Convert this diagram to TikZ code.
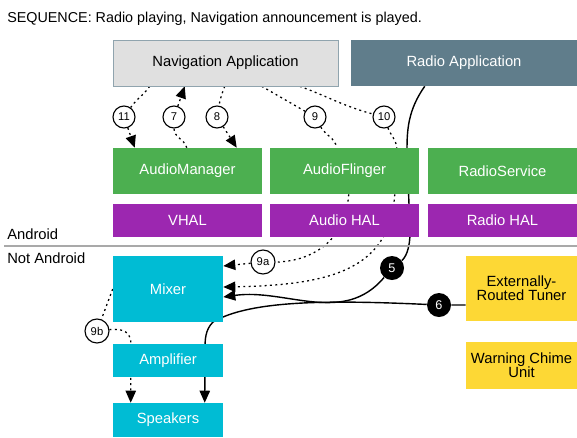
\documentclass[tikz,border=0pt]{standalone}
\usepackage{fontspec}
\setmainfont{Liberation Sans}
\usepackage{tikz}
\usetikzlibrary{arrows.meta, backgrounds}

\definecolor{navgray}{HTML}{E0E0E0}
\definecolor{navline}{HTML}{90A4AE}
\definecolor{radioblue}{HTML}{607D8B}
\definecolor{fwgreen}{HTML}{4CAF50}
\definecolor{halpurple}{HTML}{9C27B0}
\definecolor{hwcyan}{HTML}{00BCD4}
\definecolor{extyellow}{HTML}{FDD835}
\definecolor{sepgray}{HTML}{A9A9A9}

\tikzset{
  box/.style={rectangle, inner sep=0pt, align=center, font=\fontsize{10.5}{10.2}\selectfont},
  appbox/.style={box, minimum width=5.625cm, minimum height=1.15cm},
  fwbox/.style={box, fill=fwgreen, text=white, minimum width=3.725cm, minimum height=1.15cm},
  halbox/.style={box, fill=halpurple, text=white, minimum width=3.725cm, minimum height=0.825cm},
  hwbox/.style={box, fill=hwcyan, text=white, minimum width=2.75cm},
  extbox/.style={box, fill=extyellow, minimum width=2.775cm},
  zonelabel/.style={anchor=base west, inner sep=0pt, font=\fontsize{10.5}{12}\selectfont},
  stepnum/.style={circle, draw, thick, fill=white, inner sep=0pt, minimum size=0.55cm, font=\fontsize{8}{8}\selectfont},
  stepblack/.style={circle, fill=black, text=white, inner sep=0pt, minimum size=0.6cm, font=\fontsize{9}{9}\selectfont},
  dotline/.style={line width=0.9pt, dash pattern=on 1.4pt off 2.4pt},
  solidline/.style={line width=1pt},
  tip/.style={-{Triangle[length=0.3cm, width=0.26cm]}}
}

\begin{document}
\begin{tikzpicture}[x=0.025cm, y=-0.025cm]
\useasboundingbox (0,0) rectangle (577,437);

% Title and zones
\node[zonelabel, font=\fontsize{10.2}{12}\selectfont] (title) at (7,22) {SEQUENCE: Radio playing, Navigation announcement is played.};
\node[zonelabel] (android) at (7,239) {Android};
\node[zonelabel] (notandroid) at (7,263) {Not Android};
\coordinate (sepl) at (4,246);
\coordinate (sepr) at (577,246);
\draw[sepgray, line width=1.5pt] (sepl) -- (sepr);

% Applications
\node[appbox, fill=navgray, draw=navline] (nav) at (225.5,63) {Navigation Application};
\node[appbox, fill=radioblue, text=white, minimum width=5.65cm] (radioapp) at (464,63) {Radio Application};

% Framework
\node[fwbox] (amgr) at (187.5,171) {AudioManager};
\node[fwbox] (flinger) at (344.5,171) {AudioFlinger};
\node[fwbox] (radiosvc) at (502.5,171) {RadioService};

% HALs
\node[halbox] (vhal) at (187.5,220.5) {VHAL};
\node[halbox] (audiohal) at (344.5,220.5) {Audio HAL};
\node[halbox] (radiohal) at (502.5,220.5) {Radio HAL};

% Hardware
\node[hwbox, minimum height=1.65cm] (mixer) at (168,289) {Mixer};
\node[hwbox, minimum height=0.825cm] (amp) at (168,360.5) {Amplifier};
\node[hwbox, minimum height=0.85cm] (spk) at (168,420) {Speakers};
\node[extbox, minimum height=1.625cm] (tuner) at (521.5,288.5) {Externally-\\Routed Tuner};
\node[extbox, minimum height=1.175cm] (chime) at (521.5,365.5) {Warning Chime\\Unit};

% Step markers
\node[stepnum] (s11) at (124,117) {11};
\node[stepnum] (s7) at (174,117) {7};
\node[stepnum] (s8) at (217,117) {8};
\node[stepnum] (s9) at (315,117) {9};
\node[stepnum] (s10) at (384,117) {10};
\node[stepnum, minimum size=0.6cm] (s9a) at (263,262) {9a};
\node[stepnum, minimum size=0.6cm] (s9b) at (97,331) {9b};
\node[stepblack] (s5) at (392,268) {5};
\node[stepblack] (s6) at (439,305) {6};

% Flows
\begin{pgfonlayer}{background}
\draw[dotline, tip] ([xshift=0.925cm]nav.south west) to[out=-125, in=55] (s11) -- ([xshift=0.55cm]amgr.north west);
\draw[dotline, tip] ([xshift=1.85cm]amgr.north west) to[out=105, in=-90] (s7) -- ([xshift=1.8cm]nav.south west);
\draw[dotline, tip] ([xshift=2.8cm]nav.south west) to[out=-110, in=80] (s8) -- ([xshift=3.1cm]amgr.north west);
\draw[dotline] ([xshift=3.725cm]nav.south west) to[out=-30, in=150] (s9) to[out=-60, in=100] ([xshift=1.675cm]flinger.north west);
\draw[dotline] ([xshift=4.675cm]nav.south west) to[out=-20, in=165] (s10) to[out=-70, in=95] ([xshift=3.175cm]flinger.north west);

\draw[solidline] ([xshift=1.85cm]radioapp.south west) .. controls (408,110) and (407,130) .. (407,150) -- (410,232) .. controls (410,250) and (405,258) .. (s5);
\draw[solidline, tip] (s5) to[out=-130, in=8] ([yshift=-0.2cm]mixer.east);

\draw[dotline] ([xshift=1.975cm]flinger.south west) .. controls (345,250) and (300,262) .. (s9a);
\draw[dotline, tip] (s9a) -- ([yshift=0.575cm]mixer.east);
\draw[dotline, tip] ([xshift=3.125cm]flinger.south west) .. controls (390,270) and (330,285) .. ([yshift=0.05cm]mixer.east);

\draw[solidline, tip] ([yshift=-0.4125cm]tuner.west) -- (s6) .. controls (330,300) and (250,300) .. (213,322) .. controls (205,330) and (205,340) .. (205,350) -- ([xshift=2.3cm]spk.north west);

\draw[dotline] (mixer.west) -- (s9b);
\draw[dotline, tip] (s9b) .. controls (125,328) and (131,333) .. (131,345) -- ([xshift=0.45cm]spk.north west);
\end{pgfonlayer}

\end{tikzpicture}
\end{document}
